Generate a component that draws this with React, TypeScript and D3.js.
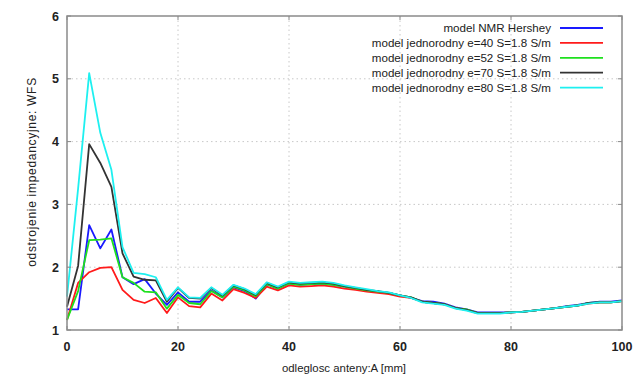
import React from "react";
import * as d3 from "d3";

const xValues = [0,2,4,6,8,10,12,14,16,18,20,22,24,26,28,30,32,34,36,38,40,42,44,46,48,50,52,54,56,58,60,62,64,66,68,70,72,74,76,78,80,82,84,86,88,90,92,94,96,98,100];

const hershey = [1.33,1.33,2.67,2.30,2.60,1.84,1.73,1.81,1.58,1.40,1.60,1.45,1.45,1.63,1.52,1.68,1.62,1.50,1.73,1.66,1.74,1.72,1.73,1.74,1.72,1.69,1.66,1.63,1.61,1.59,1.55,1.51,1.46,1.45,1.42,1.36,1.33,1.28,1.28,1.28,1.28,1.29,1.31,1.33,1.35,1.38,1.40,1.43,1.45,1.45,1.47];
const e40 = [1.16,1.75,1.92,1.99,2.00,1.64,1.48,1.43,1.51,1.27,1.52,1.38,1.36,1.58,1.47,1.65,1.59,1.51,1.69,1.63,1.71,1.69,1.70,1.71,1.69,1.66,1.64,1.61,1.59,1.57,1.53,1.51,1.45,1.43,1.41,1.35,1.32,1.27,1.27,1.27,1.28,1.29,1.31,1.33,1.35,1.37,1.39,1.42,1.44,1.44,1.46];
const e52 = [1.16,1.62,2.43,2.44,2.46,1.84,1.75,1.61,1.60,1.34,1.56,1.43,1.41,1.62,1.52,1.69,1.63,1.54,1.73,1.66,1.74,1.72,1.73,1.74,1.72,1.69,1.66,1.63,1.61,1.59,1.55,1.52,1.45,1.43,1.41,1.35,1.33,1.27,1.27,1.27,1.28,1.29,1.31,1.33,1.35,1.37,1.39,1.43,1.44,1.44,1.46];
const e70 = [1.37,2.02,3.96,3.66,3.28,2.22,1.85,1.80,1.79,1.45,1.67,1.51,1.50,1.67,1.55,1.71,1.65,1.56,1.75,1.68,1.76,1.74,1.75,1.76,1.74,1.70,1.67,1.64,1.62,1.59,1.55,1.52,1.45,1.43,1.41,1.35,1.32,1.27,1.27,1.27,1.28,1.29,1.31,1.33,1.35,1.37,1.39,1.43,1.44,1.44,1.46];
const e80 = [1.53,3.25,5.09,4.14,3.55,2.32,1.91,1.89,1.84,1.48,1.68,1.52,1.51,1.68,1.56,1.72,1.66,1.57,1.76,1.69,1.77,1.75,1.76,1.77,1.75,1.71,1.68,1.65,1.62,1.60,1.55,1.51,1.44,1.42,1.40,1.34,1.31,1.26,1.26,1.26,1.28,1.29,1.31,1.33,1.35,1.37,1.39,1.42,1.44,1.44,1.46];

const seriesNames = [
  "model NMR Hershey",
  "model jednorodny e=40 S=1.8 S/m",
  "model jednorodny e=52 S=1.8 S/m",
  "model jednorodny e=70 S=1.8 S/m",
  "model jednorodny e=80 S=1.8 S/m",
];
const seriesColors = ["#1a1aff", "#ff1a1a", "#1ee01e", "#333333", "#1ef0f0"];
const seriesData = [hershey, e40, e52, e70, e80];

const xTicks = [0, 20, 40, 60, 80, 100];
const yTicks = [1, 2, 3, 4, 5, 6];

const xTitle = "odleglosc anteny:A [mm]";
const yTitle = "odstrojenie impedancyjne: WFS";

export default function App() {
  const W = 633, H = 376;
  const left = 67, right = 622, top = 16, bottom = 330;
  const x = d3.scaleLinear().domain([0, 100]).range([left, right]);
  const y = d3.scaleLinear().domain([1, 6]).range([bottom, top]);
  const line = d3.line<number>().x((_, i) => x(xValues[i])).y((d) => y(d));
  const font = "'Liberation Sans', Arial, sans-serif";
  const legendY = (i: number) => 28 + i * 14.9;

  return (
    <svg width={W} height={H} style={{ position: "absolute", left: 0, top: 0, background: "#fff" }} fontFamily={font}>
      {xTicks.slice(1, -1).map((t) => (
        <line key={"gx" + t} x1={x(t)} x2={x(t)} y1={top} y2={bottom} stroke="#c8c8c8" strokeWidth={1} strokeDasharray="1.5,3" />
      ))}
      {yTicks.slice(1, -1).map((t) => (
        <line key={"gy" + t} x1={left} x2={right} y1={y(t)} y2={y(t)} stroke="#c8c8c8" strokeWidth={1} strokeDasharray="1.5,3" />
      ))}
      {seriesData.map((s, i) => (
        <path key={"s" + i} d={line(s) || ""} fill="none" stroke={seriesColors[i]} strokeWidth={1.8} strokeLinejoin="round" />
      ))}
      <rect x={left} y={top} width={right - left} height={bottom - top} fill="none" stroke="#8a8a8a" strokeWidth={1.5} />
      {xTicks.map((t) => (
        <g key={"tx" + t}>
          <line x1={x(t)} x2={x(t)} y1={bottom} y2={bottom - 4} stroke="#8a8a8a" strokeWidth={1} />
          <line x1={x(t)} x2={x(t)} y1={top} y2={top + 4} stroke="#8a8a8a" strokeWidth={1} />
          <text x={x(t)} y={351} textAnchor="middle" fontSize={12.5} fontWeight="bold" fill="#222">{t}</text>
        </g>
      ))}
      {yTicks.map((t) => (
        <g key={"ty" + t}>
          <line x1={left} x2={left + 4} y1={y(t)} y2={y(t)} stroke="#8a8a8a" strokeWidth={1} />
          <line x1={right} x2={right - 4} y1={y(t)} y2={y(t)} stroke="#8a8a8a" strokeWidth={1} />
          <text x={59} y={y(t) + 4.5} textAnchor="end" fontSize={12.5} fontWeight="bold" fill="#222">{t}</text>
        </g>
      ))}
      <text x={344} y={372} textAnchor="middle" fontSize={11.4} fill="#222">{xTitle}</text>
      <text transform={`translate(36,${172}) rotate(-90)`} textAnchor="middle" fontSize={12} letterSpacing={0.7} fill="#222">{yTitle}</text>
      {seriesNames.map((n, i) => (
        <g key={"l" + i}>
          <text x={551} y={legendY(i) + 4} textAnchor="end" fontSize={11.6} fill="#222">{n}</text>
          <line x1={560} x2={603} y1={legendY(i)} y2={legendY(i)} stroke={seriesColors[i]} strokeWidth={1.8} />
        </g>
      ))}
    </svg>
  );
}
